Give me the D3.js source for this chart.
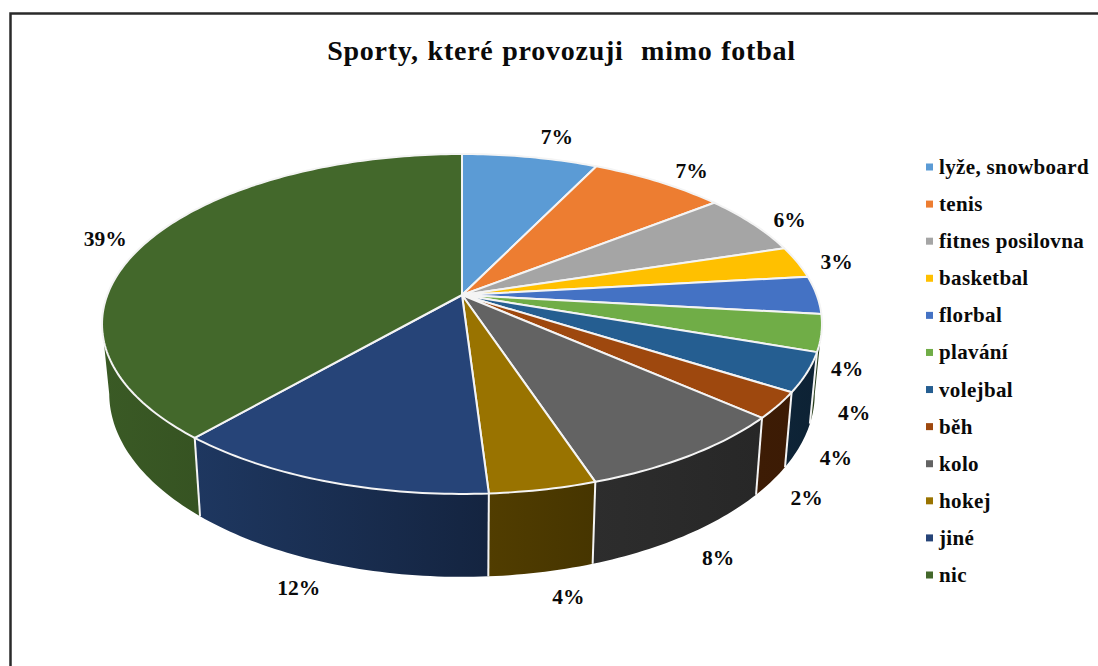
<!DOCTYPE html>
<html><head><meta charset="utf-8">
<script src="https://cdn.jsdelivr.net/npm/d3@7"></script>
<style>html,body{margin:0;padding:0;background:#fff}svg{display:block}text{font-family:"Liberation Serif",serif;font-weight:bold;fill:#0a0a0a}</style>
</head><body><svg id="c" width="1098" height="666"></svg>
<script>
const titleText = "Sporty, které provozuji  mimo fotbal";
const categories = ["lyže, snowboard","tenis","fitnes posilovna","basketbal","florbal","plavání","volejbal","běh","kolo","hokej","jiné","nic"];
const values = [7.2,7.2,5.8,3.0,3.6,3.5,3.7,2.49,8.41,4.1,12.4,38.6];
const colors = ["#5B9BD5","#ED7D31","#A5A5A5","#FFC000","#4472C4","#70AD47","#255E91","#9E480E","#636363","#997300","#264478","#43682B"];
const labelNudges = [[21,-8],[16,-1],[10,3],[7,3],[-5,74],[3,6],[-1,3],[0,3],[6,2],[17,-1],[-14,0],[-14,4]];

const svg = d3.select("#c");
const defs = svg.append("defs");
svg.append("path").attr("d","M10.5 666V13.5H1098").attr("fill","none").attr("stroke","#2a2a2a").attr("stroke-width",2.5);

svg.append("text").attr("x",561.5).attr("y",60).attr("text-anchor","middle").attr("font-size",28)
  .attr("style","word-spacing:1px;letter-spacing:.75px;white-space:pre").text(titleText);

// perspective view of the pie disc
const persp = 0.1706, cx = 462;
const proj = (a, ax, by, cy, r = 1) => {
  const u = r * Math.sin(a), v = -r * Math.cos(a), d = 1 - persp * v;
  return [cx + ax * u / d, cy + by * v / d];
};
const topPt = (a, r) => proj(a, 354.7, 165, 295, r);
const botPt = (a, r) => proj(a, 354.7 * 0.98, 165 * 1.08, 362, r);
const line = d3.line();
const deg = Math.PI / 180;
const samples = (a0, a1) => { const n = Math.max(2, Math.ceil((a1 - a0) / deg)); return d3.range(n + 1).map(i => a0 + (a1 - a0) * i / n); };
const shade = d3.scaleLinear().domain([100,140,160,180,220,260].map(d => d * deg)).range([.35,.4,.45,.55,.8,.87]).clamp(true);

const arcs = d3.pie().sort(null).value(d => d)(values);
const wallFrom = 100 * deg, wallTo = 260 * deg;

// walls
const walls = arcs.map((d, i) => ({ i, a0: Math.max(d.startAngle, wallFrom), a1: Math.min(d.endAngle, wallTo) })).filter(d => d.a1 > d.a0);
walls.forEach(w => {
  const g = defs.append("linearGradient").attr("id", "w" + w.i);
  const c = d3.rgb(colors[w.i]);
  const tint = f => d3.rgb(c.r * f, c.g * f, c.b * f).formatHex();
  g.append("stop").attr("offset", 0).attr("stop-color", tint(shade(w.a1)));
  g.append("stop").attr("offset", 1).attr("stop-color", tint(shade(w.a0)));
});
svg.append("g").selectAll("path").data(walls).join("path")
  .attr("d", w => line([...samples(w.a0, w.a1).map(a => topPt(a)), ...samples(w.a0, w.a1).reverse().map(a => botPt(a))]) + "Z")
  .attr("fill", w => `url(#w${w.i})`).attr("stroke", "none");
// wall edges
const inner = arcs.map(d => d.endAngle).filter(a => a > wallFrom && a < wallTo);
svg.append("g").selectAll("path").data(inner).join("path")
  .attr("d", a => line([topPt(a), botPt(a)])).attr("stroke", "#f4f4f4").attr("stroke-width", 2).attr("fill", "none");

// top faces
svg.append("g").selectAll("path").data(arcs).join("path")
  .attr("d", d => line([topPt(0, 0), ...samples(d.startAngle, d.endAngle).map(a => topPt(a))]) + "Z")
  .attr("fill", (d, i) => colors[i]).attr("stroke", "#f4f4f4").attr("stroke-width", 2).attr("stroke-linejoin", "round");

// data labels
svg.append("g").selectAll("text").data(arcs).join("text")
  .attr("text-anchor", "middle").attr("font-size", 21.5)
  .attr("transform", (d, i) => {
    const m = (d.startAngle + d.endAngle) / 2;
    const p = m > wallFrom && m < wallTo ? botPt(m, 1.1) : topPt(m, 1.1);
    return `translate(${p[0] + labelNudges[i][0]},${p[1] + 7 + labelNudges[i][1]})`;
  })
  .text(d => d3.format(".0f")(d.value) + "%");

// legend
const ly = d3.scalePoint().domain(categories).range([167, 575]);
const leg = svg.append("g").selectAll("g").data(categories).join("g").attr("transform", d => `translate(926,${ly(d)})`);
leg.append("rect").attr("x", 0).attr("y", -3.5).attr("width", 7).attr("height", 7).attr("fill", (d, i) => colors[i]);
leg.append("text").attr("x", 13).attr("y", 7).attr("font-size", 21).attr("style","letter-spacing:.35px").text(d => d);
</script></body></html>
